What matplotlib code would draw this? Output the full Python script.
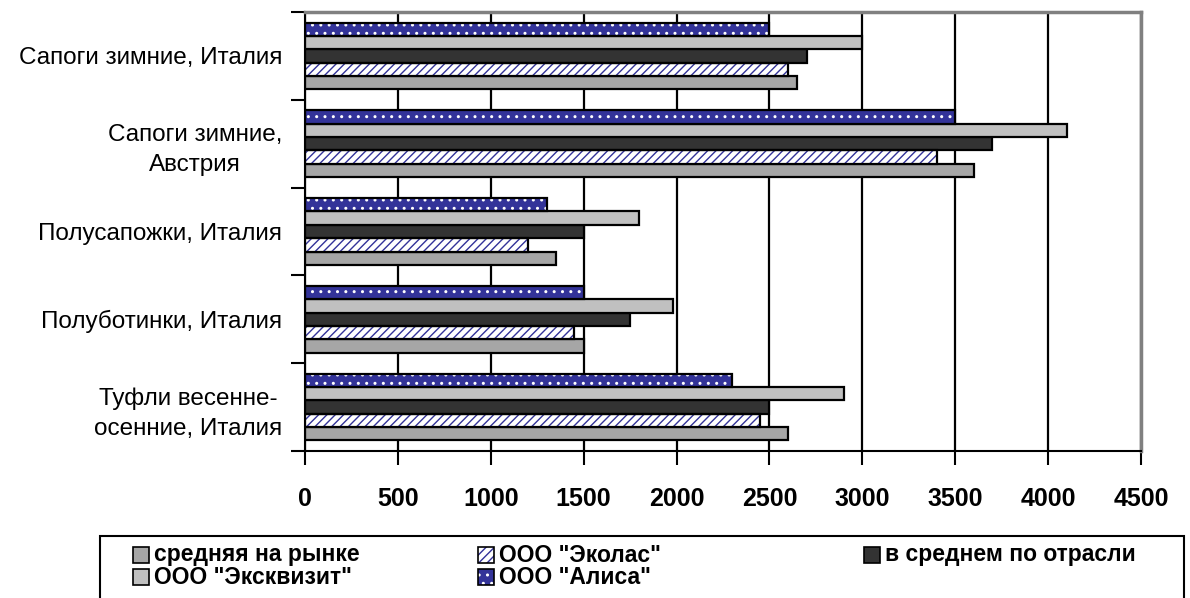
import numpy as np
import matplotlib.pyplot as plt
from matplotlib.patches import Rectangle

plt.rcParams['font.family'] = ['Liberation Sans', 'DejaVu Sans']
plt.rcParams['hatch.linewidth'] = 1.0

categories = ['Туфли весенне-\nосенние, Италия', 'Полуботинки, Италия', 'Полусапожки, Италия',
              'Сапоги зимние,\nАвстрия', 'Сапоги зимние, Италия']

series = ['средняя на рынке', 'ООО "Эколас"', 'в среднем по отрасли',
          'ООО "Эксквизит"', 'ООО "Алиса"']
srednyaya = [2600, 1500, 1350, 3600, 2650]
ekolas = [2450, 1450, 1200, 3400, 2600]
otrasl = [2500, 1750, 1500, 3700, 2700]
ekskvizit = [2900, 1980, 1800, 4100, 3000]
alisa = [2300, 1500, 1300, 3500, 2500]

xticks = [0, 500, 1000, 1500, 2000, 2500, 3000, 3500, 4000, 4500]

blue = '#333399'
face = ['#a6a6a6', 'white', '#333333', '#c0c0c0', blue]
hatch = [None, '////', None, None, '..']
hatch_col = [None, blue, None, None, 'white']
values = [srednyaya, ekolas, otrasl, ekskvizit, alisa]

fig = plt.figure(figsize=(11.9, 5.98), dpi=100)
ax = fig.add_axes([305/1190, 1-451/598, 836/1190, 439/598])

y = np.arange(len(categories))
h = 0.152
for i, vals in enumerate(values):
    pos = y + (i - 2) * h
    if hatch[i]:
        ax.barh(pos, vals, height=h, color=face[i], edgecolor=hatch_col[i],
                hatch=hatch[i], linewidth=0, zorder=2)
        ax.barh(pos, vals, height=h, fill=False, edgecolor='black', linewidth=1.6, zorder=3)
    else:
        ax.barh(pos, vals, height=h, color=face[i], edgecolor='black', linewidth=1.6, zorder=2)

ax.set_xlim(0, 4500)
ax.set_ylim(-0.5, 4.5)
ax.set_xticks(xticks)
ax.set_xticklabels([str(v) for v in xticks], fontsize=18, fontweight='bold')
ax.tick_params(axis='x', direction='out', length=10, width=1.5, pad=16)
ax.xaxis.grid(True, color='black', linewidth=1.6)
ax.set_axisbelow(True)

# category boundaries as ticks, names on minor ticks
ax.set_yticks(np.arange(-0.5, 5, 1))
ax.set_yticklabels([])
ax.tick_params(axis='y', which='major', direction='out', length=10, width=1.5)
ax.set_yticks(y, minor=True)
ax.set_yticklabels(categories, minor=True, fontsize=17.5, ha='right',
                   multialignment='center', linespacing=1.45)
ax.tick_params(axis='y', which='minor', length=0, pad=16.5)

for s in ['left', 'bottom']:
    ax.spines[s].set_linewidth(1.5)
for s in ['top', 'right']:
    ax.spines[s].set_color('#808080')
    ax.spines[s].set_linewidth(2.5)

# legend box
W, H = 1190, 598
fig.patches.append(Rectangle((100/W, -0.05), 1084/W, 1-536/H+0.05, transform=fig.transFigure,
                             facecolor='white', edgecolor='black', linewidth=1.5))
spots = [(133, 555), (478, 555), (864, 555), (133, 577), (478, 577)]
for i, (px, py) in enumerate(spots):
    fig.patches.append(Rectangle((px/W, 1-(py+8)/H), 16/W, 16/H, transform=fig.transFigure,
                                 facecolor=face[i], edgecolor=hatch_col[i] or 'black',
                                 hatch=hatch[i], linewidth=0, zorder=3))
    fig.patches.append(Rectangle((px/W, 1-(py+8)/H), 16/W, 16/H, transform=fig.transFigure,
                                 fill=False, edgecolor='black', linewidth=1.2, zorder=4))
    fig.text((px+21)/W, 1-py/H, series[i], fontsize=16.5, fontweight='bold', va='center', ha='left')

fig.savefig('out.png', dpi=100)
